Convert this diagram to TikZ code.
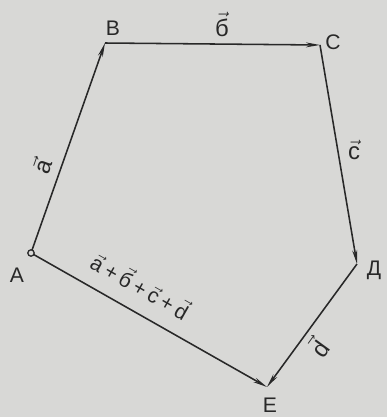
\documentclass[tikz,border=0pt]{standalone}
\usepackage{fontspec}
\setmainfont{Liberation Sans}
\usetikzlibrary{arrows.meta}
\definecolor{paper}{RGB}{216,216,214}
\definecolor{ink}{RGB}{40,40,40}
\tikzset{
  vecline/.style={-{Stealth[length=10pt,width=3.5pt]},line width=1.1pt,draw=ink},
  ptlabel/.style={text=ink,font=\fontsize{15}{15}\selectfont,inner sep=1pt},
  veclabel/.style={text=ink,font=\fontsize{17}{17}\selectfont,inner sep=1pt}
}
\newcommand{\vecl}[1]{$\vec{\mbox{#1}}$}
\newcommand{\vplus}{\hspace{3pt}+\hspace{3pt}}
\begin{document}
\begin{tikzpicture}[x=0.025cm,y=0.025cm]
    \fill[paper] (0,0) rectangle (387,417);
    \useasboundingbox (0,0) rectangle (387,417);
    % vertices of the polygon
    \coordinate (A) at (31,164);
    \coordinate (B) at (105,374);
    \coordinate (C) at (320,372);
    \coordinate (D) at (357,153);
    \coordinate (E) at (267,30);
    \draw[vecline] (A)--(B);
    \draw[vecline] (B)--(C);
    \draw[vecline] (C)--(D);
    \draw[vecline] (D)--(E);
    \draw[vecline] (A)--(E);
    \draw[ink,line width=0.9pt,fill=paper] (A) circle (3.2);
    % vertex names
    \node[ptlabel] (nA) at (17,142) {A};
    \node[ptlabel] (nB) at (113,389) {B};
    \node[ptlabel] (nC) at (333,375) {C};
    \node[ptlabel] (nD) at (374,147) {Д};
    \node[ptlabel] (nE) at (270,12) {E};
    % vectors
    \node[veclabel,rotate=70.6] (la) at (42,251) {\vecl{a}};
    \node[veclabel] (lb) at (222,393) {\vecl{б}};
    \node[veclabel] (lc) at (354,267) {\vecl{c}};
    \node[veclabel,rotate=54] (ld) at (318,70) {\vecl{d}};
    \node[veclabel,rotate=-29.6,font=\fontsize{15}{15}\selectfont] (lsum) at (141,132)
      {\vecl{a}\vplus\vecl{б}\vplus\vecl{c}\vplus\vecl{d}};
\end{tikzpicture}
\end{document}
